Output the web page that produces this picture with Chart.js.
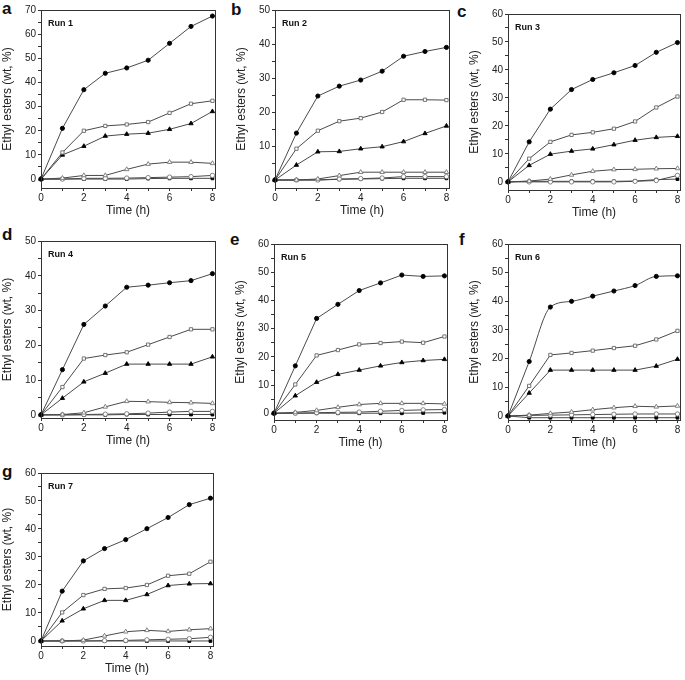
<!DOCTYPE html>
<html>
<head>
<meta charset="utf-8">
<script src="https://cdn.jsdelivr.net/npm/chart.js@4.4.1/dist/chart.umd.min.js"></script>
<style>
  body { margin: 0; background: #fff; width: 685px; height: 680px; position: relative; overflow: hidden; font-family: "Liberation Sans", Arial, sans-serif; }
  canvas { position: absolute; }
  .tag { position: absolute; font-weight: bold; font-size: 17px; color: #111; line-height: 1; }
</style>
</head>
<body>
<div class="tag" style="left:2px;top:0px">a</div>
<div class="tag" style="left:231px;top:1px">b</div>
<div class="tag" style="left:457px;top:3px">c</div>
<div class="tag" style="left:2px;top:226px">d</div>
<div class="tag" style="left:230px;top:231px">e</div>
<div class="tag" style="left:459px;top:231px">f</div>
<div class="tag" style="left:2px;top:463px">g</div>

<canvas id="c1" width="220" height="220" style="left:0px;top:0px"></canvas>
<canvas id="c2" width="220" height="220" style="left:234px;top:0px"></canvas>
<canvas id="c3" width="218" height="222" style="left:467px;top:0px"></canvas>
<canvas id="c4" width="220" height="221" style="left:0px;top:229px"></canvas>
<canvas id="c5" width="219" height="220" style="left:233px;top:232px"></canvas>
<canvas id="c6" width="218" height="220" style="left:467px;top:232px"></canvas>
<canvas id="c7" width="218" height="217" style="left:0px;top:461px"></canvas>

<script>
// ---- data ----
const hours = [0, 1, 2, 3, 4, 5, 6, 7, 8];
const xTicks = [0, 1, 2, 3, 4, 5, 6, 7, 8];
const runNames = ['Run 1', 'Run 2', 'Run 3', 'Run 4', 'Run 5', 'Run 6', 'Run 7'];
const yMax = [70, 50, 60, 50, 60, 60, 60];
const yMin = [-3.7, -2.35, -2.9, -0.9, -2.4, -1.4, -1.8];

// rows: filled circle, open square, filled triangle, open triangle, open circle, filled square
const run1 = [
  [0, 21, 37, 43.8, 46, 49.2, 56.2, 63.2, 67.5],
  [0, 11, 20, 22, 22.6, 23.6, 27.4, 31.2, 32.4],
  [0, 10, 13.6, 17.8, 18.6, 19, 20.6, 23, 28],
  [0, 0.4, 1.5, 1.5, 4, 6.2, 7, 7, 6.5],
  [0, 0, 0.3, 0.3, 0.4, 0.6, 0.8, 1.0, 1.5],
  [0, 0, 0, 0, 0, 0.2, 0.3, 0.3, 0.3]
];
const run2 = [
  [0, 13.8, 24.7, 27.6, 29.4, 32, 36.4, 37.8, 39],
  [0, 9.2, 14.5, 17.3, 18.2, 20, 23.6, 23.6, 23.5],
  [0, 4.4, 8.3, 8.4, 9.2, 9.8, 11.3, 13.7, 15.9],
  [0, 0, 0.3, 1.3, 2.3, 2.3, 2.3, 2.3, 2.3],
  [0, 0, 0, 0.3, 0.4, 0.6, 1.0, 1.0, 1.0],
  [0, 0, 0, 0.2, 0.3, 0.4, 0.5, 0.5, 0.5]
];
const run3 = [
  [0, 14.3, 26, 33, 36.6, 39, 41.6, 46.3, 49.8],
  [0, 8.3, 14.3, 16.8, 17.7, 19, 21.6, 26.6, 30.5],
  [0, 5.9, 9.9, 11, 11.8, 13.3, 14.9, 15.9, 16.3],
  [0, 0.3, 1.0, 2.5, 3.8, 4.4, 4.5, 4.7, 4.8],
  [0, 0, 0, 0, 0, 0, 0.2, 0.5, 2.3],
  [0, 0.2, 0.2, 0.2, 0.2, 0.2, 0.3, 0.8, 1.0]
];
const run4 = [
  [0, 13, 26, 31.3, 36.7, 37.3, 38, 38.6, 40.6],
  [0, 8, 16.2, 17.2, 18, 20.2, 22.4, 24.6, 24.6],
  [0, 4.8, 9.5, 12, 14.6, 14.6, 14.6, 14.6, 16.7],
  [0, 0.1, 0.6, 2.3, 3.9, 3.8, 3.6, 3.5, 3.3],
  [0, 0, 0.1, 0.2, 0.3, 0.5, 0.8, 1.0, 1.0],
  [0, 0, 0, 0, 0.1, 0.1, 0.1, 0.1, 0.1]
];
const run5 = [
  [0, 16.8, 33.6, 38.6, 43.5, 46.2, 49, 48.5, 48.7],
  [0, 10.2, 20.5, 22.4, 24.4, 24.9, 25.4, 25, 27.2],
  [0, 6.2, 11, 13.8, 15.3, 16.8, 18, 18.7, 19.1],
  [0, 0.3, 1.0, 2.1, 3.1, 3.5, 3.5, 3.5, 3.3],
  [0, 0, 0.2, 0.3, 0.4, 0.7, 1.0, 1.2, 1.3],
  [0, 0, 0, 0, 0, 0, 0, 0.1, 0.2]
];
const run6 = [
  [0, 19, 38, 40, 41.8, 43.6, 45.5, 48.7, 48.9],
  [0, 10.5, 21.3, 22, 22.8, 23.7, 24.5, 26.7, 29.7],
  [0, 8, 16, 16, 16, 16, 16, 17.4, 19.8],
  [0, 0.3, 0.9, 1.4, 2.2, 2.9, 3.4, 3.2, 3.5],
  [0, 0.2, 0.3, 0.4, 0.5, 0.6, 0.7, 0.7, 0.7],
  [0, -0.6, -0.6, -0.6, -0.6, -0.6, -0.6, -0.6, -0.6]
];
const run7 = [
  [0, 17.8, 28.6, 33, 36.2, 40.1, 44.1, 48.7, 51],
  [0, 10.2, 16.4, 18.6, 18.9, 20, 23.3, 24, 28.3],
  [0, 7.2, 11.5, 14.5, 14.5, 16.6, 19.8, 20.4, 20.5],
  [0, 0, 0.3, 1.8, 3.3, 3.8, 3.4, 4, 4.4],
  [0, 0, 0, 0.1, 0.2, 0.4, 0.6, 0.8, 1.3],
  [0, 0, 0, 0, 0, 0, 0, 0, 0]
];
const runs = [run1, run2, run3, run4, run5, run6, run7];

// ---- styles ----
const markers = [
  { style: 'circle', fill: '#000', edge: '#000', r: 2.1 },
  { style: 'rect', fill: '#fff', edge: '#666', r: 2.3 },
  { style: 'triangle', fill: '#000', edge: '#000', r: 2.5 },
  { style: 'triangle', fill: '#fff', edge: '#777', r: 2.6 },
  { style: 'circle', fill: '#fff', edge: '#777', r: 2.2 },
  { style: 'rect', fill: '#000', edge: '#000', r: 2.0 }
];
const FONT = '"Liberation Sans", Arial, sans-serif';

const framePlugin = {
  id: 'frame',
  afterDraw(chart, args, opts) {
    const a = chart.chartArea, ctx = chart.ctx;
    ctx.save();
    ctx.strokeStyle = '#333';
    ctx.lineWidth = 1;
    ctx.strokeRect(Math.round(a.left) + 0.5, Math.round(a.top) + 0.5,
      Math.round(a.right - a.left), Math.round(a.bottom - a.top));
    ctx.fillStyle = '#111';
    ctx.font = 'bold 9px ' + FONT;
    ctx.textBaseline = 'middle';
    ctx.fillText(opts.label, a.left + 7, a.top + 14);
    ctx.restore();
  }
};

function yTickList(min, max) {
  const list = [];
  for (let v = 0; v <= max; v += 5) list.push(v);
  return list;
}

function makePanel(i) {
  const canvas = document.getElementById('c' + (i + 1));
  const topPad = i < 2 ? 10 : (i === 2 ? 14 : 12);
  const datasets = runs[i].map((vals, k) => ({
    data: vals,
    borderColor: '#4a4a4a',
    borderWidth: 1,
    pointStyle: markers[k].style,
    pointRadius: markers[k].r,
    pointBackgroundColor: markers[k].fill,
    pointBorderColor: markers[k].edge,
    pointBorderWidth: 0.9,
    tension: (i === 5 && k === 0) ? 0.3 : 0,
    cubicInterpolationMode: (i === 5 && k === 0) ? 'monotone' : 'default',
    clip: false
  }));
  new Chart(canvas, {
    type: 'line',
    data: { labels: hours, datasets },
    plugins: [framePlugin],
    options: {
      responsive: false,
      animation: false,
      devicePixelRatio: 1,
      layout: { padding: { top: topPad, right: 5, left: 0, bottom: 0 } },
      plugins: { legend: { display: false }, tooltip: { enabled: false }, frame: { label: runNames[i] } },
      scales: {
        x: {
          type: 'linear',
          min: 0, max: 8.12,
          afterBuildTicks: s => { s.ticks = xTicks.map(v => ({ value: v })); },
          afterFit: s => { s.height = 32; },
          grid: { drawOnChartArea: false, tickLength: 3, color: '#333' },
          border: { display: false },
          ticks: {
            padding: 1, color: '#222', font: { family: FONT, size: 10 },
            maxRotation: 0, autoSkip: false,
            callback: v => (v % 2 === 0 ? v : '')
          },
          title: { display: true, text: 'Time (h)', color: '#222', font: { family: FONT, size: 12 }, padding: { top: 0, bottom: 2 } }
        },
        y: {
          min: yMin[i], max: yMax[i],
          afterBuildTicks: s => { s.ticks = yTickList(yMin[i], yMax[i]).map(v => ({ value: v })); },
          afterFit: s => { s.width = 41; },
          grid: { drawOnChartArea: false, tickLength: 3, color: '#333' },
          border: { display: false },
          ticks: {
            padding: 2, color: '#222', font: { family: FONT, size: 10 },
            autoSkip: false,
            callback: v => (v % 10 === 0 ? v : '')
          },
          title: { display: true, text: 'Ethyl esters (wt, %)', color: '#222', font: { family: FONT, size: 12 }, padding: { top: 0, bottom: 1 } }
        }
      }
    }
  });
}

for (let i = 0; i < runs.length; i++) makePanel(i);
</script>
</body>
</html>
